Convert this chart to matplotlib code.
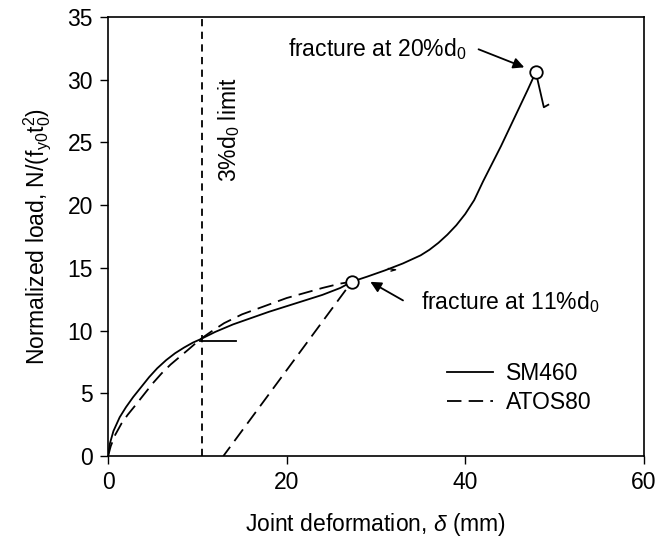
import numpy as np
import matplotlib.pyplot as plt

plt.rcParams['font.family'] = ['Liberation Sans', 'DejaVu Sans']
plt.rcParams['mathtext.fontset'] = 'custom'
plt.rcParams['mathtext.rm'] = 'Liberation Sans'
plt.rcParams['mathtext.it'] = 'Liberation Sans:italic'

# DATA
# SM460 (solid)
sm_x = [0, 0.2, 0.6, 1.3, 2.0, 2.8, 3.7, 4.6, 5.5, 6.5, 7.5, 8.5, 9.5, 10.3,
        12.0, 14.0, 16.0, 18.0, 20.0, 22.0, 24.0, 26.0, 27.3, 29.0, 31.0,
        33.0, 35.0, 36.0, 37.0, 38.0, 39.0, 40.0, 41.0, 42.0, 43.0, 44.0,
        45.0, 46.0, 47.0, 47.9, 48.8, 49.3]
sm_y = [0, 1.0, 2.0, 3.1, 3.9, 4.7, 5.5, 6.3, 7.0, 7.65, 8.2, 8.65, 9.05, 9.3,
        9.9, 10.5, 11.0, 11.5, 11.95, 12.4, 12.85, 13.4, 13.9, 14.3, 14.8,
        15.35, 16.0, 16.45, 17.0, 17.65, 18.4, 19.3, 20.4, 21.9, 23.3, 24.7,
        26.2, 27.7, 29.2, 30.6, 27.8, 28.0]
# short unloading tails of SM460
tail1_x = [10.3, 14.3]
tail1_y = [9.2, 9.2]
tail2_x = [31.4, 32.2, 31.7]
tail2_y = [14.95, 14.85, 14.75]

# ATOS80 (dashed)
at_x = [0, 0.3, 0.8, 1.5, 2.2, 3.0, 4.0, 5.0, 6.0, 7.0, 8.0, 9.0, 10.3, 11.5,
        13.0, 15.0, 17.7, 20.0, 22.0, 24.0, 26.0, 27.3, 12.9]
at_y = [0, 0.8, 1.7, 2.6, 3.3, 4.0, 4.9, 5.8, 6.6, 7.3, 7.9, 8.5, 9.3, 9.9,
        10.6, 11.3, 12.0, 12.6, 13.0, 13.4, 13.75, 13.9, 0]

# fracture points
frac_x = [27.3, 47.9]
frac_y = [13.9, 30.6]
limit_x = 10.5

fs = 16.5

fig = plt.figure(figsize=(6.59, 5.45), dpi=100)
ax = fig.add_axes([0.164, 0.163, 0.813, 0.806])

ax.plot(sm_x, sm_y, color='black', lw=1.3, label='SM460')
ax.plot(tail1_x, tail1_y, color='black', lw=1.3)
ax.plot(tail2_x, tail2_y, color='black', lw=1.0)
ax.plot(at_x, at_y, color='black', lw=1.3, dashes=(8, 4), label='ATOS80')
ax.axvline(limit_x, color='black', lw=1.3, dashes=(4, 3))
ax.plot(frac_x, frac_y, 'o', ms=9, mfc='white', mec='black', mew=1.3, zorder=5)

ax.text(13.6, 26.0, '3%d$_0$ limit', rotation=90, ha='center', va='center', fontsize=fs)

ax.annotate('', xy=(46.9, 30.9), xytext=(41.2, 32.5),
            arrowprops=dict(arrowstyle='-|>', color='black', lw=1.3, mutation_scale=16))
ax.text(40.1, 32.4, 'fracture at 20%d$_0$', ha='right', va='center', fontsize=fs)

ax.annotate('', xy=(29.1, 14.0), xytext=(33.3, 12.3),
            arrowprops=dict(arrowstyle='-|>', color='black', lw=1.3, mutation_scale=16))
ax.text(35.0, 12.3, 'fracture at 11%d$_0$', ha='left', va='center', fontsize=fs)

ax.set_xlim(0, 60)
ax.set_ylim(0, 35)
ax.set_xticks([0, 20, 40, 60])
ax.set_yticks(np.arange(0, 36, 5))
ax.tick_params(direction='out', length=6, width=1, labelsize=fs, pad=5)
for s in ax.spines.values():
    s.set_linewidth(1.2)

ax.set_xlabel(r'Joint deformation, $\delta$ (mm)', fontsize=fs, labelpad=12)
ax.set_ylabel(r'Normalized load, N/(f$_{\mathregular{y0}}$t$_{\mathregular{0}}^{\mathregular{2}}$)',
              fontsize=fs, labelpad=10)

ax.legend(loc='center left', bbox_to_anchor=(0.632, 0.155), frameon=False, fontsize=fs,
          handlelength=2.0, handletextpad=0.6, labelspacing=0.25, borderpad=0,
          borderaxespad=0)

fig.savefig('out.png', dpi=100)
